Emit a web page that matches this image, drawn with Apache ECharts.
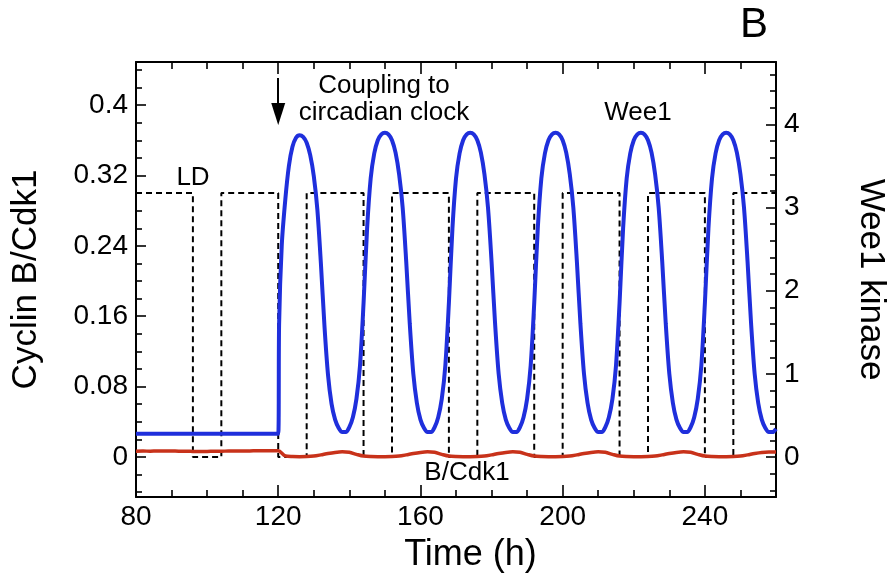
<!DOCTYPE html>
<html>
<head>
<meta charset="utf-8">
<script src="https://cdn.jsdelivr.net/npm/echarts@6/dist/echarts.min.js"></script>
<style>
html,body{margin:0;padding:0;background:#fff;}
#chart{width:888px;height:580px;}
</style>
</head>
<body>
<div id="chart"></div>
<script>
// ---- Data ----
// LD light/dark schedule (step transitions), plotted on left axis scale
var ldTime  = [80, 96, 104, 120, 128, 144, 152, 168, 176, 192, 200, 216, 224, 240, 248, 260];
var ldLevel = [0.3, 0, 0.3, 0, 0.3, 0, 0.3, 0, 0.3, 0, 0.3, 0, 0.3, 0, 0.3, 0.3];

// Wee1 kinase (right axis)
var wee1Time = [80, 120, 120.25,
  121,122,123,124,125,126,127,128,129,130,131,132,133,134,135,136,137,138,
  139,140,141,142,143,144,145,146,147,148,149,150,151,152,153,154,155,156,157,158,159,160,161,162,
  163,164,165,166,167,168,169,170,171,172,173,174,175,176,177,178,179,180,181,182,183,184,185,186,
  187,188,189,190,191,192,193,194,195,196,197,198,199,200,201,202,203,204,205,206,207,208,209,210,
  211,212,213,214,215,216,217,218,219,220,221,222,223,224,225,226,227,228,229,230,231,232,233,234,
  235,236,237,238,239,240,241,242,243,244,245,246,247,248,249,250,251,252,253,254,255,256,257,258,
  259,260];
var wee1Value = [0.28, 0.28, 1.6,
  2.55,3.1,3.5,3.73,3.84,3.87,3.85,3.78,3.63,3.38,2.98,2.33,1.58,0.99,0.64,0.45,0.35,0.30,
  0.30,0.36,0.48,0.70,1.10,1.85,2.75,3.35,3.65,3.81,3.88,3.90,3.88,3.81,3.66,3.40,3.00,2.35,1.60,1.00,0.65,0.45,0.35,0.30,
  0.30,0.36,0.48,0.70,1.10,1.85,2.75,3.35,3.65,3.81,3.88,3.90,3.88,3.81,3.66,3.40,3.00,2.35,1.60,1.00,0.65,0.45,0.35,0.30,
  0.30,0.36,0.48,0.70,1.10,1.85,2.75,3.35,3.65,3.81,3.88,3.90,3.88,3.81,3.66,3.40,3.00,2.35,1.60,1.00,0.65,0.45,0.35,0.30,
  0.30,0.36,0.48,0.70,1.10,1.85,2.75,3.35,3.65,3.81,3.88,3.90,3.88,3.81,3.66,3.40,3.00,2.35,1.60,1.00,0.65,0.45,0.35,0.30,
  0.30,0.36,0.48,0.70,1.10,1.85,2.75,3.35,3.65,3.81,3.88,3.90,3.88,3.81,3.66,3.40,3.00,2.35,1.60,1.00,0.65,0.45,0.35,0.30,
  0.30,0.34];

// Cyclin B/Cdk1 (left axis)
var cdkTime = [80,82,84,86,88,90,92,94,96,98,100,102,104,106,108,110,112,114,116,118,120,
  122,124,126,128,130,132,134,136,138,140,142,144,146,148,150,152,154,156,158,160,162,164,166,168,
  170,172,174,176,178,180,182,184,186,188,190,192,194,196,198,200,202,204,206,208,210,212,214,216,
  218,220,222,224,226,228,230,232,234,236,238,240,242,244,246,248,250,252,254,256,258,260];
var cdkValue = [0.0066,0.0067,0.0066,0.0068,0.0067,0.0068,0.0066,0.0066,0.0063,0.0061,0.0063,0.0065,0.0066,0.0067,0.0068,0.0068,0.0069,0.0070,0.0071,0.0071,0.0070,
  0.0012,0.0004,0.0003,0.0004,0.0010,0.0024,0.0040,0.0052,0.0058,0.0053,0.0030,0.0010,0.0004,0.0003,0.0003,0.0004,0.0010,0.0024,0.0040,0.0052,0.0058,0.0053,0.0030,0.0010,
  0.0004,0.0003,0.0003,0.0004,0.0010,0.0024,0.0040,0.0052,0.0058,0.0053,0.0030,0.0010,0.0004,0.0003,0.0003,0.0004,0.0010,0.0024,0.0040,0.0052,0.0058,0.0053,0.0030,0.0010,
  0.0004,0.0003,0.0003,0.0004,0.0010,0.0024,0.0040,0.0052,0.0058,0.0053,0.0030,0.0010,0.0004,0.0003,0.0003,0.0004,0.0010,0.0024,0.0040,0.0052,0.0056,0.0056];

// Axis ticks
var xMin = 80, xMax = 260, xStep = 40;
var leftMin = -0.0455, leftMax = 0.449;
var leftMajor = [0, 0.08, 0.16, 0.24, 0.32, 0.4];
var leftMinor = [-0.04, -0.02, 0.02, 0.04, 0.06, 0.1, 0.12, 0.14, 0.18, 0.2, 0.22, 0.26, 0.28, 0.3, 0.34, 0.36, 0.38, 0.42, 0.44];
var rightMin = -0.48, rightMax = 4.75;
var rightMajor = [0, 1, 2, 3, 4];
var rightMinor = [-0.4, -0.2, 0.2, 0.4, 0.6, 0.8, 1.2, 1.4, 1.6, 1.8, 2.2, 2.4, 2.6, 2.8, 3.2, 3.4, 3.6, 3.8, 4.2, 4.4, 4.6];

// Arrow for "Coupling to circadian clock" (time, left-axis value)
var arrowTime = 120, arrowFrom = 0.4307, arrowTo = 0.3898;

function zip(a, b) { return a.map(function (v, i) { return [v, b[i]]; }); }

var FONT = '"Liberation Sans", Arial, Helvetica, sans-serif';
var chart = echarts.init(document.getElementById('chart'), null, {renderer: 'canvas'});

var tickStyle = {color: '#000', width: 1.6};
function yAxisMain(pos, min, max, ticks, name, rot, gap) {
  return {
    type: 'value', position: pos, min: min, max: max,
    name: name, nameLocation: 'middle', nameRotate: rot, nameGap: gap,
    nameTextStyle: {fontFamily: FONT, fontSize: 35, color: '#000'},
    axisLine: {show: true, onZero: false, lineStyle: {color: '#000', width: 2}},
    axisTick: {show: true, inside: true, length: 10, customValues: ticks, lineStyle: tickStyle},
    axisLabel: {show: true, customValues: ticks, fontFamily: FONT, fontSize: 28, color: '#000', margin: 8},
    splitLine: {show: false}
  };
}
function yAxisMinor(pos, min, max, ticks) {
  return {
    type: 'value', position: pos, min: min, max: max,
    axisLine: {show: false},
    axisTick: {show: true, inside: true, length: 6, customValues: ticks, lineStyle: tickStyle},
    axisLabel: {show: false},
    splitLine: {show: false}
  };
}

var option = {
  animation: false,
  backgroundColor: '#fff',
  grid: {left: 136, right: 112, top: 62, bottom: 83, containLabel: false, outerBoundsMode: 'none'},
  xAxis: [
    {
      type: 'value', position: 'bottom', min: xMin, max: xMax, interval: xStep,
      name: 'Time (h)', nameLocation: 'middle', nameGap: 40,
      nameTextStyle: {fontFamily: FONT, fontSize: 36, color: '#000', padding: [0, 0, 0, 29]},
      axisLine: {show: true, onZero: false, lineStyle: {color: '#000', width: 2}},
      axisTick: {show: true, inside: true, length: 12, lineStyle: tickStyle},
      minorTick: {show: true, splitNumber: 4, length: 7, lineStyle: tickStyle},
      axisLabel: {fontFamily: FONT, fontSize: 28, color: '#000', margin: 6, showMaxLabel: false},
      splitLine: {show: false}, minorSplitLine: {show: false}
    },
    {
      type: 'value', position: 'top', min: xMin, max: xMax, interval: xStep,
      axisLine: {show: true, onZero: false, lineStyle: {color: '#000', width: 2}},
      axisTick: {show: true, inside: true, length: 12, lineStyle: tickStyle},
      minorTick: {show: true, splitNumber: 4, length: 7, lineStyle: tickStyle},
      axisLabel: {show: false},
      splitLine: {show: false}, minorSplitLine: {show: false}
    }
  ],
  yAxis: [
    yAxisMain('left', leftMin, leftMax, leftMajor, 'Cyclin B/Cdk1', 90, 92),
    yAxisMain('right', rightMin, rightMax, rightMajor, 'Wee1 kinase', -90, 77),
    yAxisMinor('left', leftMin, leftMax, leftMinor),
    yAxisMinor('right', rightMin, rightMax, rightMinor)
  ],
  series: [
    {
      name: 'LD', type: 'line', xAxisIndex: 0, yAxisIndex: 0, step: 'end',
      data: zip(ldTime, ldLevel), showSymbol: false, symbol: 'none',
      lineStyle: {color: '#000', width: 2, type: [6, 4]},
      z: 2,
      markLine: {
        silent: true, symbol: ['none', 'triangle'], symbolSize: [14, 22],
        lineStyle: {color: '#000', width: 2, type: 'solid'},
        label: {show: false},
        data: [[{coord: [arrowTime, arrowFrom]}, {coord: [arrowTime, arrowTo]}]]
      }
    },
    {
      name: 'B/Cdk1', type: 'line', xAxisIndex: 0, yAxisIndex: 0,
      data: zip(cdkTime, cdkValue), showSymbol: false, symbol: 'none', smooth: 0.3,
      lineStyle: {color: '#c8321a', width: 3.5}, z: 3
    },
    {
      name: 'Wee1', type: 'line', xAxisIndex: 0, yAxisIndex: 1,
      data: zip(wee1Time, wee1Value), showSymbol: false, symbol: 'none', smooth: 0.3,
      lineStyle: {color: '#1f2fdc', width: 4}, z: 4
    }
  ],
  graphic: [
    {type: 'text', z: 10, style: {text: 'Coupling to\ncircadian clock', x: 384, y: 99.5, align: 'center', verticalAlign: 'middle', lineHeight: 27, font: '26px ' + FONT, fill: '#000'}},
    {type: 'text', z: 10, style: {text: 'LD', x: 193, y: 178, align: 'center', verticalAlign: 'middle', font: '26px ' + FONT, fill: '#000'}},
    {type: 'text', z: 10, style: {text: 'Wee1', x: 638, y: 112.7, align: 'center', verticalAlign: 'middle', font: '26px ' + FONT, fill: '#000'}},
    {type: 'text', z: 10, style: {text: 'B/Cdk1', x: 467, y: 472.7, align: 'center', verticalAlign: 'middle', font: '26px ' + FONT, fill: '#000'}},
    {type: 'text', z: 10, style: {text: 'B', x: 754, y: 25.5, align: 'center', verticalAlign: 'middle', font: '42px ' + FONT, fill: '#000'}}
  ]
};
chart.setOption(option);
</script>
</body>
</html>
